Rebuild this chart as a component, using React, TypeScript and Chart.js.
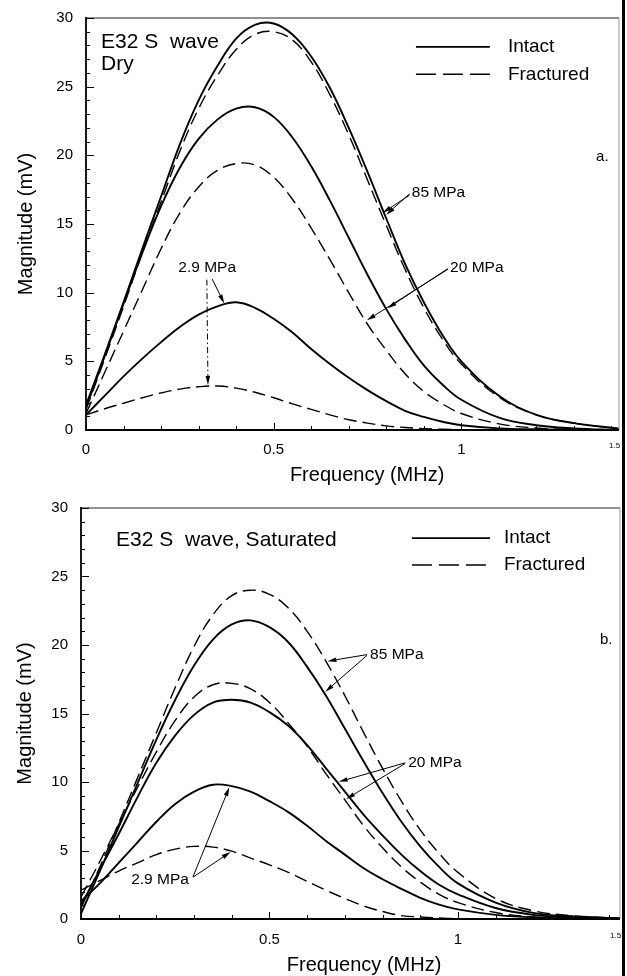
import React, { useEffect, useRef } from "react";
import { Chart, registerables } from "chart.js";

Chart.register(...registerables);

const FONT = "'Liberation Sans', Arial, Helvetica, sans-serif";

// ---------- data ----------
const DRY_FREQ = [0, 0.05, 0.1, 0.15, 0.2, 0.25, 0.3, 0.35, 0.4, 0.45, 0.5, 0.55, 0.6, 0.65, 0.7, 0.75, 0.8, 0.85, 0.9, 0.95, 1.0, 1.1, 1.2, 1.3, 1.42];
const SAT_FREQ = [0, 0.05, 0.1, 0.15, 0.2, 0.25, 0.3, 0.35, 0.4, 0.45, 0.5, 0.55, 0.6, 0.65, 0.7, 0.75, 0.8, 0.85, 0.9, 0.95, 1.0, 1.1, 1.2, 1.3, 1.43];

const DRY_INTACT_85 = [1.8, 5.5, 9.3, 13.2, 17.0, 20.8, 24.0, 26.5, 28.5, 29.5, 29.6, 28.8, 27.2, 24.9, 22.0, 18.8, 15.4, 12.1, 9.3, 6.9, 5.0, 2.5, 1.1, 0.5, 0.1];
const DRY_FRACT_85 = [1.5, 5.2, 9.0, 12.9, 16.6, 20.3, 23.4, 25.8, 27.7, 28.8, 29.0, 28.4, 26.8, 24.4, 21.5, 18.2, 14.9, 11.7, 8.9, 6.6, 4.8, 2.4, 1.1, 0.5, 0.1];
const DRY_INTACT_20 = [1.6, 5.4, 9.2, 12.9, 16.3, 19.1, 21.2, 22.6, 23.4, 23.5, 22.8, 21.3, 19.2, 16.7, 14.0, 11.3, 8.8, 6.6, 4.7, 3.3, 2.2, 0.9, 0.35, 0.12, 0];
const DRY_FRACT_20 = [1.2, 4.2, 7.2, 10.2, 13.2, 15.8, 17.7, 18.9, 19.4, 19.3, 18.4, 16.8, 14.7, 12.4, 10.0, 7.7, 5.8, 4.1, 2.8, 1.9, 1.2, 0.45, 0.15, 0.05, 0];
const DRY_INTACT_2_9 = [1.1, 2.5, 3.9, 5.2, 6.4, 7.5, 8.4, 9.0, 9.3, 8.9, 8.1, 7.1, 5.9, 4.8, 3.8, 2.9, 2.1, 1.4, 0.95, 0.6, 0.35, 0.12, 0.05, 0.02, 0];
const DRY_FRACT_2_9 = [1.1, 1.55, 1.95, 2.35, 2.7, 2.98, 3.15, 3.2, 3.05, 2.75, 2.35, 1.9, 1.5, 1.1, 0.75, 0.5, 0.3, 0.18, 0.1, 0.05, 0.02, 0, 0, 0, 0];

const SAT_INTACT_85 = [0.4, 3.5, 6.7, 9.9, 13.1, 16.0, 18.5, 20.4, 21.5, 21.8, 21.3, 20.2, 18.4, 16.3, 13.9, 11.5, 9.2, 7.1, 5.3, 3.8, 2.6, 1.2, 0.45, 0.2, 0.05];
const SAT_FRACT_85 = [0.8, 3.8, 7.0, 10.3, 13.6, 16.9, 19.9, 22.2, 23.6, 24.0, 23.7, 22.7, 21.0, 18.8, 16.3, 13.6, 11.0, 8.6, 6.5, 4.8, 3.4, 1.5, 0.6, 0.25, 0.05];
const SAT_INTACT_20 = [1.0, 3.6, 6.2, 8.9, 11.4, 13.4, 14.9, 15.8, 16.0, 15.8, 15.1, 14.1, 12.7, 11.0, 9.3, 7.6, 6.1, 4.7, 3.5, 2.5, 1.8, 0.8, 0.3, 0.12, 0.03];
const SAT_FRACT_20 = [1.6, 4.2, 6.9, 9.6, 12.2, 14.5, 16.2, 17.1, 17.2, 16.8, 15.8, 14.3, 12.6, 10.6, 8.7, 6.8, 5.2, 3.8, 2.7, 1.8, 1.2, 0.47, 0.15, 0.05, 0];
const SAT_INTACT_2_9 = [1.3, 2.6, 4.1, 5.6, 7.1, 8.4, 9.3, 9.8, 9.7, 9.3, 8.6, 7.8, 6.8, 5.7, 4.7, 3.7, 2.9, 2.2, 1.55, 1.05, 0.7, 0.3, 0.12, 0.05, 0];
const SAT_FRACT_2_9 = [2.1, 2.8, 3.5, 4.1, 4.7, 5.1, 5.3, 5.25, 4.95, 4.45, 3.95, 3.4, 2.75, 2.1, 1.5, 0.95, 0.55, 0.25, 0.15, 0.08, 0.03, 0.01, 0, 0, 0];

const Y_TICKS = [0, 5, 10, 15, 20, 25, 30];
const X_TICKS = [0, 0.5, 1];
const END_TICK_LABEL = "1.5";
const X_TITLE = "Frequency (MHz)";
const Y_TITLE = "Magnitude (mV)";
const LEGEND_INTACT = "Intact";
const LEGEND_FRACT = "Fractured";

// ---------- panel specs ----------
type Curve = { label: string; values: number[]; dashed: boolean };
type Arrow = { from: [number, number]; curve: number; f: number; dash?: number[] };
type Spec = {
  key: string;
  freq: number[];
  xMax: number;
  plotLeft: number;
  plotRight: number;
  plotTop: number;
  plotBottom: number;
  xTickPad: number;
  xTitleF: number;
  xTitleY: number;
  yTitlePad: number;
  curves: Curve[];
  heading: { text: string; f: number; v: number }[];
  legend: { f0: number; f1: number; fText: number; vIntact: number; vFract: number };
  letter: { text: string; f: number; v: number };
  notes: { text: string; f: number; v: number }[];
  arrows: Arrow[];
};

const DRY_SPEC: Spec = {
  key: "dry",
  freq: DRY_FREQ,
  xMax: 1.42,
  plotLeft: 86,
  plotRight: 619,
  plotTop: 18,
  plotBottom: 430,
  xTickPad: 11,
  xTitleF: 0.749,
  xTitleY: 475,
  yTitlePad: 14,
  curves: [
    { label: "Intact 85 MPa", values: DRY_INTACT_85, dashed: false },
    { label: "Fractured 85 MPa", values: DRY_FRACT_85, dashed: true },
    { label: "Intact 20 MPa", values: DRY_INTACT_20, dashed: false },
    { label: "Fractured 20 MPa", values: DRY_FRACT_20, dashed: true },
    { label: "Intact 2.9 MPa", values: DRY_INTACT_2_9, dashed: false },
    { label: "Fractured 2.9 MPa", values: DRY_FRACT_2_9, dashed: true },
  ],
  heading: [
    { text: "E32 S  wave", f: 0.04, v: 27.82 },
    { text: "Dry", f: 0.04, v: 26.2 },
  ],
  legend: { f0: 0.879, f1: 1.076, fText: 1.124, vIntact: 27.9, vFract: 25.9 },
  letter: { text: "a.", f: 1.359, v: 19.9 },
  notes: [
    { text: "85 MPa", f: 0.868, v: 17.3 },
    { text: "20 MPa", f: 0.97, v: 11.8 },
    { text: "2.9 MPa", f: 0.246, v: 11.8 },
  ],
  arrows: [
    { from: [0.862, 17.2], curve: 0, f: 0.797 },
    { from: [0.862, 17.1], curve: 1, f: 0.787 },
    { from: [0.964, 11.75], curve: 2, f: 0.8 },
    { from: [0.964, 11.7], curve: 3, f: 0.745 },
    { from: [0.336, 11.0], curve: 4, f: 0.37 },
    { from: [0.322, 10.95], curve: 5, f: 0.325, dash: [6, 3, 1.5, 3] },
  ],
};

const SAT_SPEC: Spec = {
  key: "sat",
  freq: SAT_FREQ,
  xMax: 1.43,
  plotLeft: 81,
  plotRight: 620,
  plotTop: 20,
  plotBottom: 431,
  xTickPad: 12,
  xTitleF: 0.751,
  xTitleY: 477,
  yTitlePad: 13,
  curves: [
    { label: "Intact 85 MPa", values: SAT_INTACT_85, dashed: false },
    { label: "Fractured 85 MPa", values: SAT_FRACT_85, dashed: true },
    { label: "Intact 20 MPa", values: SAT_INTACT_20, dashed: false },
    { label: "Fractured 20 MPa", values: SAT_FRACT_20, dashed: true },
    { label: "Intact 2.9 MPa", values: SAT_INTACT_2_9, dashed: false },
    { label: "Fractured 2.9 MPa", values: SAT_FRACT_2_9, dashed: true },
  ],
  heading: [{ text: "E32 S  wave, Saturated", f: 0.093, v: 27.26 }],
  legend: { f0: 0.878, f1: 1.085, fText: 1.122, vIntact: 27.8, vFract: 25.84 },
  letter: { text: "b.", f: 1.377, v: 20.4 },
  notes: [
    { text: "85 MPa", f: 0.767, v: 19.3 },
    { text: "20 MPa", f: 0.868, v: 11.4 },
    { text: "2.9 MPa", f: 0.133, v: 2.85 },
  ],
  arrows: [
    { from: [0.759, 19.3], curve: 1, f: 0.65 },
    { from: [0.759, 19.25], curve: 0, f: 0.645 },
    { from: [0.86, 11.4], curve: 2, f: 0.68 },
    { from: [0.86, 11.35], curve: 3, f: 0.7 },
    { from: [0.297, 3.07], curve: 4, f: 0.395 },
    { from: [0.297, 3.05], curve: 5, f: 0.4 },
  ],
};

// ---------- helpers ----------
function interp(xs: number[], ys: number[], x: number) {
  for (let i = 0; i < xs.length - 1; i++) {
    if (x >= xs[i] && x <= xs[i + 1]) {
      const t = (x - xs[i]) / (xs[i + 1] - xs[i]);
      return ys[i] + t * (ys[i + 1] - ys[i]);
    }
  }
  return ys[ys.length - 1];
}

function makeDecor(s: Spec) {
  return {
    id: "decor_" + s.key,
    afterDraw(chart: any) {
      const ctx: CanvasRenderingContext2D = chart.ctx;
      const xs = chart.scales.x;
      const ys = chart.scales.y;
      const a = chart.chartArea;
      const X = (f: number) => xs.getPixelForValue(f);
      const Y = (v: number) => ys.getPixelForValue(v);
      const line = (x0: number, y0: number, x1: number, y1: number) => {
        ctx.beginPath();
        ctx.moveTo(x0, y0);
        ctx.lineTo(x1, y1);
        ctx.stroke();
      };
      ctx.save();
      ctx.setLineDash([]);
      // frame
      ctx.strokeStyle = "#222";
      ctx.lineWidth = 1.2;
      line(a.left, a.top, a.right, a.top);
      ctx.strokeStyle = "#999";
      ctx.lineWidth = 1;
      line(a.right, a.top, a.right, a.bottom);
      ctx.strokeStyle = "#000";
      ctx.lineWidth = 1.8;
      line(a.left, a.top - 1, a.left, a.bottom + 1);
      line(a.left - 1, a.bottom, a.right, a.bottom);
      // inward ticks
      ctx.lineWidth = 1;
      for (let v = 0; v <= 30; v++) {
        const len = v % 5 === 0 ? 8 : 4;
        const yy = Math.round(Y(v)) + 0.5;
        line(a.left, yy, a.left + len, yy);
      }
      for (let k = 0; k <= 14; k++) {
        const f = k / 10;
        if (f > s.xMax) break;
        const len = k % 5 === 0 ? 7 : 4;
        const xx = Math.round(X(f)) + 0.5;
        line(xx, a.bottom, xx, a.bottom - len);
      }
      // x axis title
      ctx.fillStyle = "#000";
      ctx.textAlign = "center";
      ctx.textBaseline = "middle";
      ctx.font = `20px ${FONT}`;
      ctx.fillText(X_TITLE, X(s.xTitleF), s.xTitleY);
      // heading
      ctx.textAlign = "left";
      ctx.textBaseline = "alphabetic";
      ctx.font = `21px ${FONT}`;
      s.heading.forEach((h) => ctx.fillText(h.text, X(h.f), Y(h.v)));
      // legend
      const lg = s.legend;
      ctx.lineWidth = 1.6;
      ctx.setLineDash([]);
      line(X(lg.f0), Y(lg.vIntact), X(lg.f1), Y(lg.vIntact));
      ctx.lineWidth = 1.4;
      ctx.setLineDash([20, 7]);
      line(X(lg.f0), Y(lg.vFract), X(lg.f1), Y(lg.vFract));
      ctx.setLineDash([]);
      ctx.textBaseline = "middle";
      ctx.font = `19px ${FONT}`;
      ctx.fillText(LEGEND_INTACT, X(lg.fText), Y(lg.vIntact));
      ctx.fillText(LEGEND_FRACT, X(lg.fText), Y(lg.vFract));
      // panel letter
      ctx.font = `15px ${FONT}`;
      ctx.fillText(s.letter.text, X(s.letter.f), Y(s.letter.v));
      // notes
      ctx.font = `15.5px ${FONT}`;
      s.notes.forEach((n) => ctx.fillText(n.text, X(n.f), Y(n.v)));
      // arrows
      s.arrows.forEach((ar) => {
        const c = s.curves[ar.curve];
        const x0 = X(ar.from[0]);
        const y0 = Y(ar.from[1]);
        const x1 = X(ar.f);
        const y1 = Y(interp(s.freq, c.values, ar.f));
        const dx = x1 - x0;
        const dy = y1 - y0;
        const L = Math.hypot(dx, dy);
        const ux = dx / L;
        const uy = dy / L;
        const tx = x1 - ux * 1.5;
        const ty = y1 - uy * 1.5;
        const head = 9;
        const hw = 2.3;
        const bx = tx - ux * head;
        const by = ty - uy * head;
        ctx.lineWidth = 1;
        ctx.setLineDash(ar.dash || []);
        line(x0, y0, bx, by);
        ctx.setLineDash([]);
        ctx.beginPath();
        ctx.moveTo(tx, ty);
        ctx.lineTo(bx - uy * hw, by + ux * hw);
        ctx.lineTo(bx + uy * hw, by - ux * hw);
        ctx.closePath();
        ctx.fill();
      });
      ctx.restore();
    },
  };
}

function buildConfig(s: Spec): any {
  const H = 488;
  const datasets = s.curves.map((c) => ({
    label: c.label,
    data: s.freq.map((f, i) => ({ x: f, y: c.values[i] })),
    borderColor: "#000",
    backgroundColor: "#000",
    borderWidth: c.dashed ? 1.4 : 1.9,
    borderDash: c.dashed ? [13, 6] : [],
    pointRadius: 0,
    tension: 0.4,
    fill: false,
  }));
  return {
    type: "line",
    data: { datasets },
    options: {
      responsive: false,
      animation: false,
      events: [],
      layout: { padding: { left: 0, top: s.plotTop, right: 627 - s.plotRight, bottom: 0 } },
      plugins: { legend: { display: false }, tooltip: { enabled: false } },
      scales: {
        x: {
          type: "linear",
          min: 0,
          max: s.xMax,
          afterBuildTicks: (sc: any) => {
            sc.ticks = [...X_TICKS, s.xMax].map((v) => ({ value: v }));
          },
          afterFit: (sc: any) => {
            sc.height = H - s.plotBottom;
            sc.paddingLeft = 0;
            sc.paddingRight = 0;
          },
          grid: { display: false, drawTicks: false },
          border: { display: false },
          ticks: {
            autoSkip: false,
            maxRotation: 0,
            minRotation: 0,
            padding: s.xTickPad,
            color: "#000",
            font: (c: any) => ({ family: FONT, size: c.tick && c.tick.value > 1.2 ? 8 : 15 }),
            callback: (v: number) => (v > 1.2 ? END_TICK_LABEL + "    " : String(v)),
          },
          title: { display: false, text: X_TITLE },
        },
        y: {
          type: "linear",
          min: 0,
          max: 30,
          afterBuildTicks: (sc: any) => {
            sc.ticks = Y_TICKS.map((v) => ({ value: v }));
          },
          afterFit: (sc: any) => {
            sc.width = s.plotLeft;
            sc.paddingTop = 0;
            sc.paddingBottom = 0;
          },
          grid: { display: false, drawTicks: false },
          border: { display: false },
          ticks: {
            padding: 13,
            color: "#000",
            font: { family: FONT, size: 15 },
            callback: (v: number) => String(v),
          },
          title: {
            display: true,
            text: Y_TITLE,
            color: "#000",
            font: { family: FONT, size: 20 },
            padding: { top: s.yTitlePad, bottom: 0 },
          },
        },
      },
    },
    plugins: [makeDecor(s)],
  };
}

function Panel({ spec, top }: { spec: Spec; top: number }) {
  const ref = useRef<HTMLCanvasElement>(null);
  useEffect(() => {
    const chart = new Chart(ref.current as HTMLCanvasElement, buildConfig(spec));
    return () => chart.destroy();
  }, [spec]);
  return (
    <canvas
      ref={ref}
      width={627}
      height={488}
      style={{ position: "absolute", left: 0, top, width: 627, height: 488 }}
    />
  );
}

export default function App() {
  return (
    <div
      style={{
        position: "absolute",
        left: 0,
        top: 0,
        width: 627,
        height: 976,
        background: "#fff",
        overflow: "hidden",
      }}
    >
      <Panel spec={DRY_SPEC} top={0} />
      <Panel spec={SAT_SPEC} top={488} />
      <div style={{ position: "absolute", left: 622, top: 0, width: 3, height: 976, background: "#000" }} />
    </div>
  );
}
